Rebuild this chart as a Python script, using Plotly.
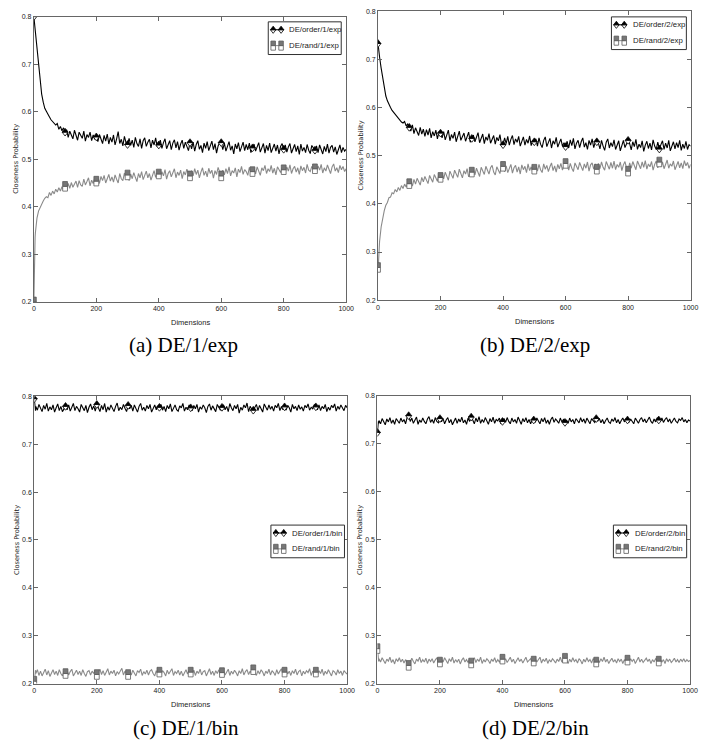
import plotly.graph_objects as go

FIG_W, FIG_H = 721, 749

# ---------------------------------------------------------------- data
DIMS = [0, 1, 2, 3, 4] + list(range(5, 1001, 5))
MARK_DIMS = list(range(0, 1000, 100))
X_TICKS = [0, 200, 400, 600, 800, 1000]
Y_TICKS = [0.2, 0.3, 0.4, 0.5, 0.6, 0.7, 0.8]
Y_TICK_TEXT = ["0.2", "0.3", "0.4", "0.5", "0.6", "0.7", "0.8"]
X_RANGE = [0, 1000]
Y_RANGE = [0.2, 0.8]
X_TITLE = "Dimensions"
Y_TITLE = "Closeness Probability"

ORDER_1_EXP = [
    0.800, 0.793, 0.786, 0.778, 0.770,
    0.762, 0.728, 0.694, 0.664, 0.637, 0.620, 0.607, 0.601, 0.593, 0.589,
    0.583, 0.580, 0.576, 0.572, 0.575, 0.563, 0.569, 0.560, 0.566, 0.557,
    0.562, 0.546, 0.559, 0.551, 0.543, 0.561, 0.548, 0.540, 0.557, 0.550,
    0.544, 0.559, 0.538, 0.552, 0.546, 0.557, 0.539, 0.551, 0.542, 0.547,
    0.537, 0.552, 0.540, 0.533, 0.550, 0.538, 0.553, 0.532, 0.546, 0.536,
    0.551, 0.530, 0.543, 0.558, 0.533, 0.542, 0.528, 0.548, 0.535, 0.531,
    0.544, 0.529, 0.540, 0.525, 0.546, 0.533, 0.527, 0.543, 0.523, 0.539,
    0.545, 0.527, 0.536, 0.542, 0.524, 0.540, 0.530, 0.545, 0.526, 0.530,
    0.540, 0.523, 0.535, 0.543, 0.522, 0.531, 0.539, 0.520, 0.534, 0.541,
    0.524, 0.537, 0.519, 0.532, 0.540, 0.523, 0.536, 0.527, 0.518, 0.535,
    0.522, 0.536, 0.517, 0.531, 0.539, 0.521, 0.529, 0.514, 0.534, 0.523,
    0.537, 0.518, 0.530, 0.538, 0.520, 0.533, 0.513, 0.528, 0.535, 0.535,
    0.520, 0.534, 0.517, 0.529, 0.537, 0.519, 0.528, 0.511, 0.532, 0.522,
    0.535, 0.516, 0.528, 0.536, 0.518, 0.531, 0.520, 0.534, 0.514, 0.524,
    0.532, 0.517, 0.527, 0.535, 0.515, 0.526, 0.533, 0.513, 0.529, 0.518,
    0.534, 0.514, 0.525, 0.532, 0.517, 0.530, 0.511, 0.527, 0.533, 0.521,
    0.530, 0.515, 0.526, 0.533, 0.513, 0.524, 0.531, 0.516, 0.528, 0.510,
    0.532, 0.517, 0.525, 0.514, 0.531, 0.519, 0.512, 0.529, 0.524, 0.519,
    0.528, 0.514, 0.530, 0.518, 0.511, 0.527, 0.516, 0.532, 0.513, 0.525,
    0.529, 0.515, 0.526, 0.510, 0.523, 0.530, 0.514, 0.525, 0.517, 0.521,
]

RAND_1_EXP = [
    0.200, 0.262, 0.300, 0.322, 0.336,
    0.346, 0.376, 0.391, 0.399, 0.408, 0.412, 0.418, 0.421, 0.419, 0.430,
    0.424, 0.433, 0.427, 0.437, 0.431, 0.440, 0.433, 0.442, 0.436, 0.443,
    0.436, 0.449, 0.439, 0.451, 0.441, 0.448, 0.454, 0.441, 0.455, 0.446,
    0.443, 0.458, 0.446, 0.453, 0.461, 0.444, 0.456, 0.449, 0.460, 0.454,
    0.462, 0.449, 0.464, 0.455, 0.466, 0.450, 0.461, 0.468, 0.454, 0.463,
    0.452, 0.467, 0.458, 0.450, 0.470, 0.459, 0.455, 0.471, 0.460, 0.467,
    0.455, 0.469, 0.459, 0.472, 0.462, 0.453, 0.470, 0.461, 0.474, 0.457,
    0.466, 0.475, 0.461, 0.470, 0.456, 0.467, 0.476, 0.462, 0.471, 0.469,
    0.460, 0.474, 0.465, 0.478, 0.458, 0.470, 0.476, 0.463, 0.472, 0.480,
    0.461, 0.473, 0.466, 0.477, 0.459, 0.474, 0.467, 0.479, 0.471, 0.465,
    0.476, 0.465, 0.480, 0.468, 0.477, 0.461, 0.473, 0.482, 0.466, 0.475,
    0.463, 0.481, 0.470, 0.477, 0.460, 0.476, 0.468, 0.483, 0.473, 0.465,
    0.477, 0.467, 0.480, 0.470, 0.484, 0.465, 0.476, 0.471, 0.482, 0.463,
    0.479, 0.472, 0.485, 0.468, 0.478, 0.474, 0.466, 0.483, 0.471, 0.474,
    0.481, 0.469, 0.484, 0.473, 0.466, 0.482, 0.476, 0.487, 0.470, 0.480,
    0.474, 0.487, 0.471, 0.481, 0.467, 0.484, 0.476, 0.472, 0.483, 0.478,
    0.472, 0.484, 0.475, 0.488, 0.470, 0.480, 0.485, 0.473, 0.482, 0.468,
    0.486, 0.476, 0.483, 0.471, 0.489, 0.477, 0.474, 0.485, 0.479, 0.480,
    0.473, 0.486, 0.477, 0.489, 0.471, 0.482, 0.475, 0.488, 0.479, 0.470,
    0.484, 0.490, 0.475, 0.482, 0.472, 0.487, 0.478, 0.485, 0.474, 0.480,
]

ORDER_2_EXP = [
    0.733, 0.729, 0.723, 0.717, 0.711,
    0.705, 0.682, 0.660, 0.639, 0.624, 0.614, 0.605, 0.600, 0.594, 0.590,
    0.585, 0.581, 0.577, 0.574, 0.570, 0.568, 0.571, 0.562, 0.566, 0.559,
    0.551, 0.564, 0.546, 0.558, 0.549, 0.542, 0.559, 0.545, 0.555, 0.540,
    0.554, 0.543, 0.557, 0.537, 0.550, 0.541, 0.553, 0.535, 0.549, 0.547,
    0.537, 0.550, 0.533, 0.545, 0.553, 0.531, 0.544, 0.536, 0.549, 0.529,
    0.543, 0.551, 0.532, 0.541, 0.547, 0.530, 0.540, 0.549, 0.528, 0.536,
    0.543, 0.529, 0.540, 0.548, 0.527, 0.537, 0.545, 0.525, 0.539, 0.532,
    0.546, 0.526, 0.536, 0.542, 0.524, 0.538, 0.531, 0.544, 0.523, 0.523,
    0.537, 0.525, 0.540, 0.522, 0.534, 0.542, 0.523, 0.535, 0.528, 0.540,
    0.520, 0.532, 0.539, 0.522, 0.534, 0.526, 0.541, 0.521, 0.531, 0.529,
    0.535, 0.520, 0.537, 0.524, 0.517, 0.532, 0.539, 0.519, 0.528, 0.536,
    0.516, 0.531, 0.524, 0.538, 0.518, 0.529, 0.535, 0.520, 0.527, 0.519,
    0.530, 0.516, 0.533, 0.521, 0.536, 0.514, 0.526, 0.532, 0.517, 0.529,
    0.537, 0.518, 0.527, 0.513, 0.532, 0.522, 0.535, 0.517, 0.528, 0.529,
    0.526, 0.514, 0.532, 0.520, 0.511, 0.528, 0.535, 0.516, 0.527, 0.519,
    0.533, 0.513, 0.524, 0.531, 0.510, 0.523, 0.532, 0.517, 0.527, 0.532,
    0.525, 0.512, 0.529, 0.519, 0.534, 0.513, 0.524, 0.517, 0.531, 0.509,
    0.522, 0.530, 0.515, 0.526, 0.512, 0.533, 0.520, 0.513, 0.528, 0.514,
    0.523, 0.531, 0.513, 0.526, 0.516, 0.532, 0.510, 0.522, 0.529, 0.514,
    0.527, 0.517, 0.532, 0.511, 0.524, 0.515, 0.530, 0.513, 0.523, 0.520,
]

RAND_2_EXP = [
    0.268, 0.262, 0.284, 0.299, 0.311,
    0.322, 0.352, 0.372, 0.386, 0.397, 0.403, 0.413, 0.414, 0.423, 0.421,
    0.430, 0.425, 0.434, 0.428, 0.438, 0.432, 0.441, 0.435, 0.443, 0.442,
    0.447, 0.437, 0.451, 0.441, 0.453, 0.445, 0.439, 0.455, 0.446, 0.457,
    0.448, 0.442, 0.459, 0.450, 0.445, 0.461, 0.452, 0.447, 0.462, 0.455,
    0.464, 0.452, 0.466, 0.457, 0.449, 0.468, 0.459, 0.453, 0.470, 0.460,
    0.455, 0.472, 0.461, 0.454, 0.469, 0.462, 0.473, 0.456, 0.465, 0.466,
    0.472, 0.460, 0.474, 0.465, 0.457, 0.476, 0.466, 0.461, 0.478, 0.468,
    0.462, 0.475, 0.480, 0.466, 0.460, 0.477, 0.469, 0.463, 0.479, 0.478,
    0.467, 0.479, 0.465, 0.476, 0.482, 0.464, 0.475, 0.480, 0.466, 0.477,
    0.462, 0.481, 0.471, 0.478, 0.465, 0.483, 0.469, 0.477, 0.466, 0.472,
    0.480, 0.468, 0.482, 0.471, 0.465, 0.483, 0.472, 0.480, 0.467, 0.477,
    0.485, 0.469, 0.479, 0.466, 0.482, 0.473, 0.484, 0.470, 0.480, 0.484,
    0.482, 0.470, 0.484, 0.474, 0.467, 0.485, 0.476, 0.471, 0.486, 0.477,
    0.469, 0.483, 0.474, 0.487, 0.468, 0.481, 0.485, 0.472, 0.483, 0.472,
    0.484, 0.473, 0.487, 0.476, 0.470, 0.488, 0.478, 0.472, 0.486, 0.474,
    0.489, 0.471, 0.482, 0.476, 0.487, 0.469, 0.481, 0.488, 0.474, 0.468,
    0.485, 0.474, 0.488, 0.478, 0.471, 0.489, 0.479, 0.473, 0.487, 0.476,
    0.490, 0.472, 0.483, 0.477, 0.488, 0.470, 0.482, 0.489, 0.475, 0.487,
    0.477, 0.487, 0.473, 0.485, 0.491, 0.474, 0.483, 0.478, 0.489, 0.471,
    0.482, 0.488, 0.475, 0.485, 0.473, 0.490, 0.479, 0.486, 0.474, 0.482,
]

ORDER_1_BIN = [
    0.795, 0.781, 0.772, 0.780, 0.770,
    0.779, 0.771, 0.783, 0.775, 0.768, 0.781, 0.773, 0.785, 0.769, 0.778,
    0.772, 0.782, 0.767, 0.776, 0.784, 0.770, 0.779, 0.768, 0.775, 0.779,
    0.772, 0.782, 0.769, 0.777, 0.785, 0.770, 0.779, 0.774, 0.767, 0.783,
    0.775, 0.770, 0.781, 0.766, 0.777, 0.784, 0.772, 0.780, 0.769, 0.783,
    0.776, 0.768, 0.781, 0.772, 0.785, 0.767, 0.778, 0.771, 0.782, 0.774,
    0.768, 0.779, 0.786, 0.770, 0.777, 0.772, 0.783, 0.775, 0.768, 0.781,
    0.774, 0.781, 0.769, 0.782, 0.776, 0.767, 0.779, 0.785, 0.771, 0.777,
    0.769, 0.781, 0.774, 0.783, 0.767, 0.776, 0.782, 0.772, 0.779, 0.777,
    0.783, 0.771, 0.779, 0.768, 0.781, 0.774, 0.784, 0.768, 0.776, 0.782,
    0.772, 0.769, 0.780, 0.776, 0.785, 0.769, 0.777, 0.772, 0.782, 0.776,
    0.770, 0.781, 0.774, 0.783, 0.767, 0.778, 0.773, 0.782, 0.776, 0.766,
    0.779, 0.784, 0.771, 0.780, 0.774, 0.768, 0.783, 0.776, 0.771, 0.777,
    0.782, 0.772, 0.779, 0.768, 0.785, 0.776, 0.770, 0.781, 0.774, 0.783,
    0.765, 0.777, 0.771, 0.782, 0.776, 0.786, 0.768, 0.779, 0.773, 0.771,
    0.776, 0.783, 0.770, 0.781, 0.774, 0.767, 0.784, 0.777, 0.771, 0.782,
    0.773, 0.779, 0.769, 0.781, 0.776, 0.785, 0.770, 0.778, 0.772, 0.778,
    0.771, 0.781, 0.776, 0.767, 0.783, 0.774, 0.779, 0.770, 0.782, 0.773,
    0.778, 0.769, 0.781, 0.776, 0.784, 0.771, 0.777, 0.774, 0.782, 0.778,
    0.772, 0.782, 0.770, 0.779, 0.774, 0.783, 0.768, 0.777, 0.771, 0.781,
    0.776, 0.784, 0.769, 0.779, 0.773, 0.782, 0.774, 0.770, 0.781, 0.776,
]

RAND_1_BIN = [
    0.205, 0.218, 0.227, 0.220, 0.228,
    0.221, 0.229, 0.217, 0.226, 0.216, 0.225, 0.230, 0.218, 0.227, 0.215,
    0.224, 0.229, 0.219, 0.226, 0.217, 0.229, 0.221, 0.216, 0.226, 0.221,
    0.227, 0.218, 0.225, 0.230, 0.216, 0.223, 0.228, 0.219, 0.226, 0.217,
    0.229, 0.221, 0.215, 0.225, 0.227, 0.218, 0.226, 0.221, 0.228, 0.219,
    0.225, 0.230, 0.219, 0.227, 0.217, 0.223, 0.231, 0.218, 0.226, 0.221,
    0.228, 0.216, 0.225, 0.220, 0.227, 0.232, 0.218, 0.226, 0.221, 0.219,
    0.226, 0.218, 0.228, 0.221, 0.216, 0.227, 0.223, 0.230, 0.217, 0.225,
    0.220, 0.228, 0.218, 0.226, 0.229, 0.221, 0.216, 0.227, 0.220, 0.224,
    0.218, 0.227, 0.223, 0.216, 0.228, 0.220, 0.226, 0.231, 0.217, 0.225,
    0.221, 0.228, 0.218, 0.226, 0.216, 0.223, 0.229, 0.220, 0.227, 0.224,
    0.219, 0.228, 0.217, 0.226, 0.221, 0.230, 0.218, 0.225, 0.227, 0.216,
    0.223, 0.231, 0.219, 0.226, 0.217, 0.227, 0.221, 0.229, 0.218, 0.223,
    0.227, 0.218, 0.225, 0.230, 0.217, 0.226, 0.220, 0.228, 0.223, 0.216,
    0.227, 0.221, 0.231, 0.218, 0.225, 0.229, 0.219, 0.226, 0.221, 0.229,
    0.223, 0.217, 0.227, 0.220, 0.229, 0.224, 0.216, 0.226, 0.221, 0.230,
    0.218, 0.227, 0.223, 0.217, 0.229, 0.220, 0.226, 0.231, 0.218, 0.224,
    0.229, 0.220, 0.226, 0.217, 0.227, 0.221, 0.230, 0.218, 0.225, 0.228,
    0.216, 0.226, 0.220, 0.227, 0.223, 0.231, 0.217, 0.226, 0.221, 0.224,
    0.218, 0.227, 0.221, 0.230, 0.217, 0.226, 0.220, 0.229, 0.223, 0.216,
    0.227, 0.224, 0.218, 0.229, 0.221, 0.226, 0.217, 0.227, 0.223, 0.220,
]

ORDER_2_BIN = [
    0.724, 0.735, 0.742, 0.747, 0.743,
    0.749, 0.742, 0.753, 0.745, 0.740, 0.752, 0.746, 0.755, 0.743, 0.750,
    0.741, 0.753, 0.747, 0.743, 0.754, 0.746, 0.751, 0.742, 0.755, 0.759,
    0.747, 0.754, 0.743, 0.751, 0.756, 0.741, 0.750, 0.745, 0.754, 0.747,
    0.742, 0.752, 0.757, 0.745, 0.751, 0.743, 0.755, 0.747, 0.744, 0.753,
    0.746, 0.753, 0.742, 0.750, 0.755, 0.744, 0.751, 0.740, 0.748, 0.754,
    0.743, 0.752, 0.746, 0.756, 0.744, 0.750, 0.741, 0.754, 0.747, 0.756,
    0.750, 0.742, 0.754, 0.746, 0.757, 0.743, 0.751, 0.745, 0.755, 0.747,
    0.741, 0.753, 0.746, 0.756, 0.743, 0.751, 0.748, 0.754, 0.742, 0.747,
    0.753, 0.745, 0.755, 0.747, 0.742, 0.754, 0.746, 0.751, 0.743, 0.756,
    0.749, 0.741, 0.753, 0.746, 0.755, 0.744, 0.751, 0.742, 0.750, 0.750,
    0.745, 0.754, 0.748, 0.742, 0.753, 0.746, 0.755, 0.743, 0.750, 0.741,
    0.751, 0.756, 0.745, 0.752, 0.748, 0.743, 0.754, 0.746, 0.751, 0.745,
    0.750, 0.743, 0.754, 0.746, 0.751, 0.742, 0.753, 0.748, 0.744, 0.755,
    0.746, 0.752, 0.743, 0.754, 0.748, 0.742, 0.753, 0.749, 0.745, 0.753,
    0.748, 0.753, 0.744, 0.751, 0.742, 0.749, 0.754, 0.746, 0.743, 0.752,
    0.747, 0.755, 0.744, 0.751, 0.742, 0.749, 0.754, 0.746, 0.752, 0.750,
    0.745, 0.752, 0.748, 0.742, 0.754, 0.749, 0.743, 0.751, 0.755, 0.746,
    0.752, 0.744, 0.750, 0.756, 0.747, 0.743, 0.752, 0.746, 0.754, 0.750,
    0.747, 0.754, 0.745, 0.751, 0.755, 0.746, 0.752, 0.743, 0.749, 0.754,
    0.747, 0.744, 0.752, 0.749, 0.755, 0.746, 0.751, 0.744, 0.750, 0.748,
]

RAND_2_BIN = [
    0.273, 0.262, 0.254, 0.250, 0.246,
    0.252, 0.245, 0.254, 0.246, 0.242, 0.251, 0.247, 0.255, 0.244, 0.250,
    0.241, 0.252, 0.246, 0.254, 0.245, 0.251, 0.243, 0.250, 0.244, 0.238,
    0.245, 0.253, 0.246, 0.241, 0.251, 0.247, 0.255, 0.244, 0.250, 0.245,
    0.253, 0.242, 0.251, 0.246, 0.252, 0.243, 0.249, 0.254, 0.245, 0.245,
    0.251, 0.245, 0.254, 0.247, 0.242, 0.252, 0.246, 0.255, 0.243, 0.250,
    0.245, 0.251, 0.241, 0.249, 0.254, 0.245, 0.250, 0.244, 0.252, 0.243,
    0.249, 0.254, 0.244, 0.251, 0.246, 0.255, 0.242, 0.250, 0.245, 0.252,
    0.248, 0.242, 0.251, 0.246, 0.254, 0.244, 0.250, 0.245, 0.251, 0.251,
    0.246, 0.252, 0.244, 0.250, 0.255, 0.245, 0.251, 0.242, 0.248, 0.254,
    0.246, 0.251, 0.243, 0.250, 0.255, 0.245, 0.248, 0.252, 0.244, 0.247,
    0.252, 0.245, 0.250, 0.255, 0.243, 0.251, 0.246, 0.253, 0.242, 0.250,
    0.245, 0.252, 0.248, 0.243, 0.251, 0.246, 0.255, 0.245, 0.250, 0.253,
    0.248, 0.242, 0.251, 0.245, 0.254, 0.246, 0.250, 0.243, 0.252, 0.248,
    0.241, 0.251, 0.245, 0.254, 0.246, 0.250, 0.243, 0.252, 0.248, 0.245,
    0.250, 0.244, 0.252, 0.246, 0.255, 0.245, 0.251, 0.242, 0.248, 0.253,
    0.245, 0.250, 0.243, 0.252, 0.246, 0.251, 0.242, 0.250, 0.245, 0.249,
    0.245, 0.252, 0.246, 0.251, 0.242, 0.250, 0.255, 0.245, 0.251, 0.244,
    0.248, 0.253, 0.246, 0.251, 0.242, 0.250, 0.245, 0.252, 0.248, 0.247,
    0.251, 0.245, 0.250, 0.242, 0.252, 0.246, 0.251, 0.244, 0.248, 0.253,
    0.245, 0.250, 0.244, 0.251, 0.246, 0.252, 0.245, 0.250, 0.246, 0.248,
]

ORDER_SERIES = [ORDER_1_EXP, ORDER_2_EXP, ORDER_1_BIN, ORDER_2_BIN]
RAND_SERIES = [RAND_1_EXP, RAND_2_EXP, RAND_1_BIN, RAND_2_BIN]
ORDER_NAMES = ["DE/order/1/exp", "DE/order/2/exp", "DE/order/1/bin", "DE/order/2/bin"]
RAND_NAMES = ["DE/rand/1/exp", "DE/rand/2/exp", "DE/rand/1/bin", "DE/rand/2/bin"]
CAPTIONS = ["(a) DE/1/exp", "(b) DE/2/exp", "(c) DE/1/bin", "(d) DE/2/bin"]

for s in ORDER_SERIES + RAND_SERIES:
    assert len(s) == len(DIMS), len(s)

# ---------------------------------------------------------------- styling
SANS = "Liberation Sans, Arial, sans-serif"
REGULAR = "DejaVu Sans, sans-serif"
SERIF = "Liberation Serif, Times New Roman, serif"
TEXT = "#222222"
FRAME = "#666666"
ORDER_COLOR = "#000000"
RAND_COLOR = "#8a8a8a"
RAND_FILL = "#777777"
RAND_EDGE = "#5c5c5c"

# plot areas in pixels: (left, right, top, bottom)
PLOT_BOXES = [
    (32.3, 349.0, 12.7, 300.7),
    (381.3, 698.3, 7.3, 299.0),
    (32.7, 350.0, 396.0, 686.0),
    (380.7, 697.7, 395.7, 686.0),
]
# legend boxes in pixels: (left, right, top)
LEGEND_BOXES = [
    (270.0, 344.0, 18.0),
    (618.0, 694.0, 13.0),
    (272.7, 347.3, 526.0),
    (620.0, 694.3, 526.0),
]
LEGEND_H = 33.0
CAPTION_POS = [(184, 344), (541, 344), (187, 731), (541, 731)]

TRI_SIZE = 5.2      # plotly marker size of each triangle half
SQ_SIZE = 4.8       # plotly marker size of each square half


def px(x, y):
    """pixel position -> paper coordinates"""
    return x / FIG_W, 1 - y / FIG_H


fig = go.Figure()
shapes = []
annotations = []
mark_idx = [DIMS.index(d) for d in MARK_DIMS]

for k in range(4):
    x0, x1, y0, y1 = PLOT_BOXES[k]
    sfx = "" if k == 0 else str(k + 1)
    xa, ya = "x" + sfx, "y" + sfx
    px_per_unit = (y1 - y0) / (Y_RANGE[1] - Y_RANGE[0])
    tri_dy = (TRI_SIZE / 4) / px_per_unit
    sq_dy = (SQ_SIZE / 2) / px_per_unit

    order = ORDER_SERIES[k]
    rand = RAND_SERIES[k]
    mx = [DIMS[i] for i in mark_idx]
    my_o = [order[i] for i in mark_idx]
    my_r = [rand[i] for i in mark_idx]

    common = dict(xaxis=xa, yaxis=ya, showlegend=False, hoverinfo="skip")
    # order series: line, then half-filled diamond markers
    fig.add_trace(go.Scatter(x=DIMS, y=order, mode="lines",
                             line=dict(color=ORDER_COLOR, width=1.1), **common))
    fig.add_trace(go.Scatter(x=mx, y=[v - tri_dy for v in my_o], mode="markers",
                             marker=dict(symbol="triangle-down", size=TRI_SIZE, color="white",
                                         line=dict(color=ORDER_COLOR, width=0.8)), **common))
    fig.add_trace(go.Scatter(x=mx, y=[v + tri_dy for v in my_o], mode="markers",
                             marker=dict(symbol="triangle-up", size=TRI_SIZE, color=ORDER_COLOR,
                                         line=dict(color=ORDER_COLOR, width=0.6)), **common))
    # rand series: line, then half-filled square markers
    fig.add_trace(go.Scatter(x=DIMS, y=rand, mode="lines",
                             line=dict(color=RAND_COLOR, width=1.1), **common))
    fig.add_trace(go.Scatter(x=mx, y=[v - sq_dy for v in my_r], mode="markers",
                             marker=dict(symbol="square", size=SQ_SIZE, color="white",
                                         line=dict(color=RAND_EDGE, width=0.8)), **common))
    fig.add_trace(go.Scatter(x=mx, y=[v + sq_dy for v in my_r], mode="markers",
                             marker=dict(symbol="square", size=SQ_SIZE, color=RAND_FILL,
                                         line=dict(color=RAND_EDGE, width=0.8)), **common))

    axis_common = dict(showline=True, linecolor=FRAME, linewidth=1, mirror="ticks",
                       ticks="inside", ticklen=4, tickwidth=1, tickcolor=FRAME,
                       showgrid=False, zeroline=False,
                       tickfont=dict(family=SANS, size=7, color=TEXT))
    fig.update_layout(**{
        ("xaxis" + sfx): dict(domain=[x0 / FIG_W, x1 / FIG_W], anchor=ya, range=X_RANGE,
                              tickvals=X_TICKS, **axis_common),
        ("yaxis" + sfx): dict(domain=[1 - y1 / FIG_H, 1 - y0 / FIG_H], anchor=xa, range=Y_RANGE,
                              tickvals=Y_TICKS, ticktext=Y_TICK_TEXT, **axis_common),
    })

    # axis titles
    tx, ty = px((x0 + x1) / 2, y1 + 21)
    annotations.append(dict(x=tx, y=ty, xref="paper", yref="paper", text=X_TITLE,
                            showarrow=False, xanchor="center", yanchor="middle",
                            font=dict(family=SANS, size=7.5, color=TEXT)))
    tx, ty = px(x0 - 17.5, (y0 + y1) / 2)
    annotations.append(dict(x=tx, y=ty, xref="paper", yref="paper", text=Y_TITLE,
                            showarrow=False, textangle=-90, xanchor="center", yanchor="middle",
                            font=dict(family=REGULAR, size=6.6, color=TEXT)))
    # caption
    cx, cy = px(*CAPTION_POS[k])
    annotations.append(dict(x=cx, y=cy, xref="paper", yref="paper", text=CAPTIONS[k],
                            showarrow=False, xanchor="center", yanchor="middle",
                            font=dict(family=SERIF, size=21, color="black")))

    # legend box
    L, R, T = LEGEND_BOXES[k]
    bx0, by0 = px(L, T + LEGEND_H)
    bx1, by1 = px(R, T)
    shapes.append(dict(type="rect", xref="paper", yref="paper", x0=bx0, y0=by0, x1=bx1, y1=by1,
                       line=dict(color="#303030", width=1), fillcolor="white", layer="above"))
    rows = [T + 8.0, T + 24.0]
    gx = [L + 5.0, L + 13.0]
    # line segments behind the glyphs
    for row, col in zip(rows, [ORDER_COLOR, RAND_COLOR]):
        lx0, ly = px(gx[0], row)
        lx1, _ = px(gx[1], row)
        shapes.append(dict(type="line", xref="paper", yref="paper", x0=lx0, x1=lx1, y0=ly, y1=ly,
                           line=dict(color=col, width=1), layer="above"))
    for g in gx:
        cyo = rows[0]
        hw, hh = 2.8, 3.6
        top = [px(g - hw, cyo), px(g + hw, cyo), px(g, cyo - hh)]
        bot = [px(g - hw, cyo), px(g + hw, cyo), px(g, cyo + hh)]
        for pts, fill in ((bot, "white"), (top, ORDER_COLOR)):
            path = "M" + " L".join(f"{a:.5f},{b:.5f}" for a, b in pts) + " Z"
            shapes.append(dict(type="path", xref="paper", yref="paper", path=path,
                               fillcolor=fill, line=dict(color=ORDER_COLOR, width=0.8),
                               layer="above"))
        cyr = rows[1]
        s = 2.3
        for (ya0, ya1), fill in (((cyr, cyr + 2 * s), "white"), ((cyr - 2 * s, cyr), RAND_FILL)):
            qx0, qy0 = px(g - s, ya1)
            qx1, qy1 = px(g + s, ya0)
            shapes.append(dict(type="rect", xref="paper", yref="paper",
                               x0=qx0, y0=qy0, x1=qx1, y1=qy1, fillcolor=fill,
                               line=dict(color=RAND_EDGE, width=0.8), layer="above"))
    for row, name in zip(rows, [ORDER_NAMES[k], RAND_NAMES[k]]):
        ax, ay = px(L + 19.5, row)
        annotations.append(dict(x=ax, y=ay, xref="paper", yref="paper", text=name,
                                showarrow=False, xanchor="left", yanchor="middle",
                                font=dict(family=SANS, size=7.8, color=TEXT)))

fig.update_layout(
    width=FIG_W, height=FIG_H, autosize=False,
    margin=dict(l=0, r=0, t=0, b=0, pad=0),
    paper_bgcolor="white", plot_bgcolor="white",
    showlegend=False,
    shapes=shapes, annotations=annotations,
)

fig.write_html("out.html")
